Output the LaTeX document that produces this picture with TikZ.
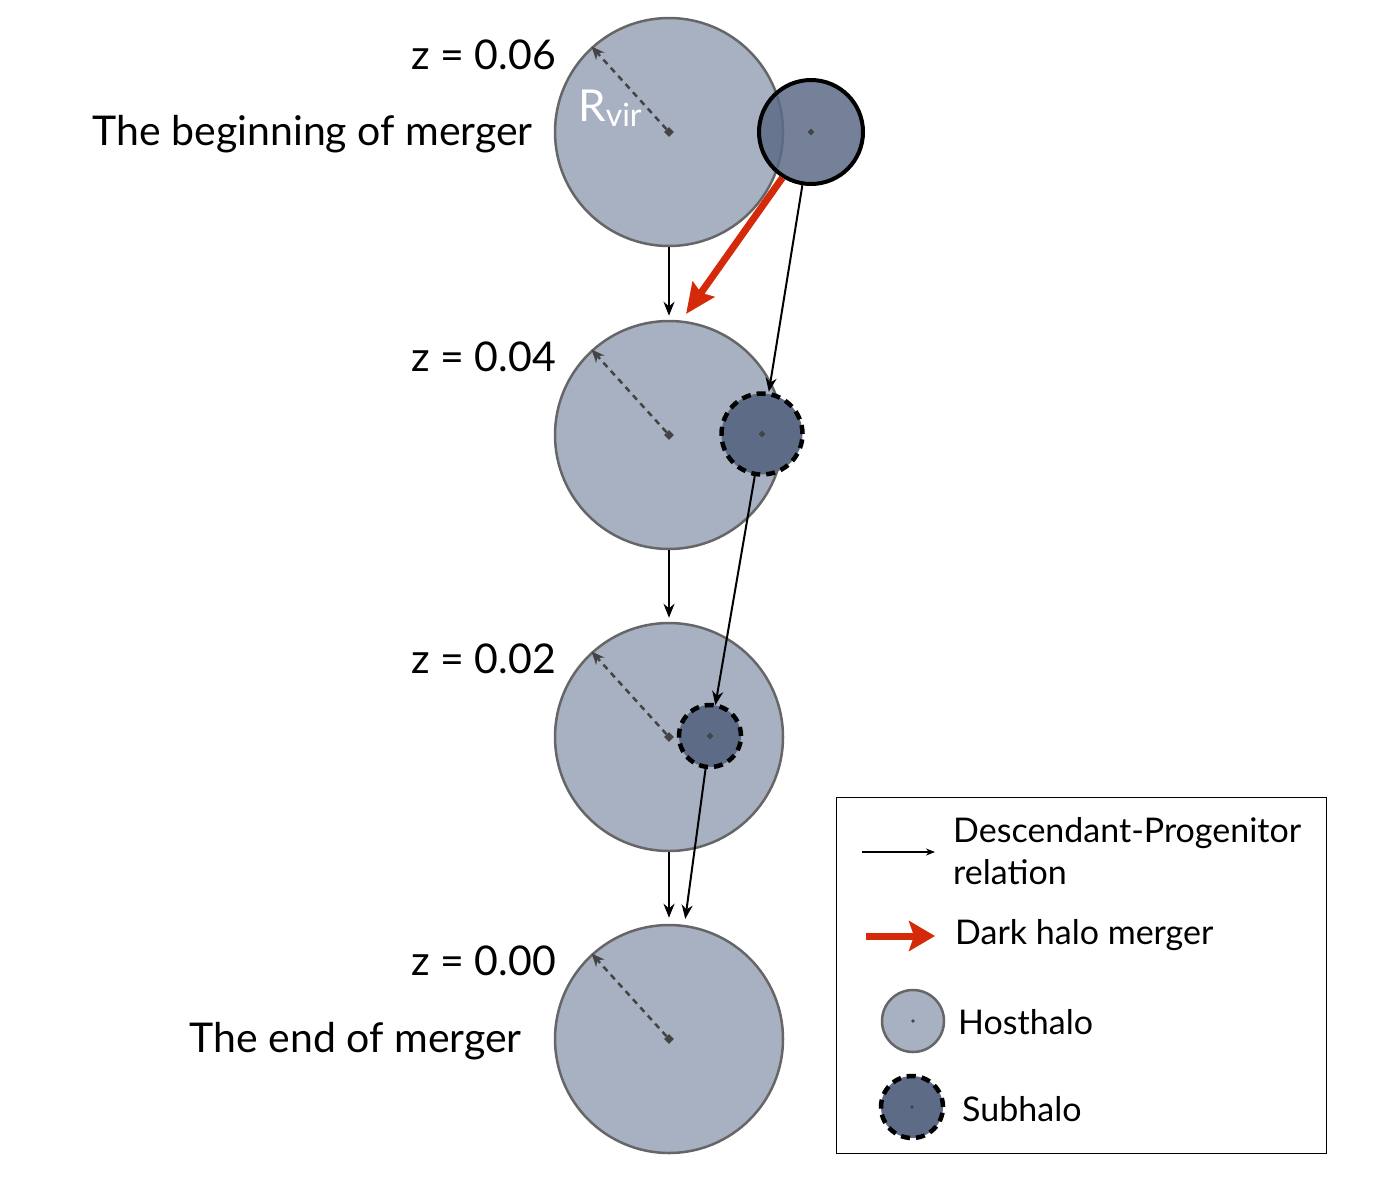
\documentclass[tikz,border=0pt]{standalone}
\usepackage{fontspec}
\setmainfont{Lato}
\usetikzlibrary{arrows.meta,shapes.geometric}
\definecolor{hostfill}{HTML}{A7B1C1}
\definecolor{hostdraw}{HTML}{666666}
\definecolor{subfill}{HTML}{5D6B86}
\definecolor{mred}{HTML}{D42A0A}
\definecolor{dotc}{HTML}{444444}
\tikzset{
  host/.style={circle,minimum size=228pt,inner sep=0pt,fill=hostfill,draw=hostdraw,line width=2.5pt},
  subsolid/.style={circle,minimum size=104pt,inner sep=0pt,fill=subfill,fill opacity=0.85,draw=black,line width=4pt,draw opacity=1},
  subdash/.style={circle,inner sep=0pt,fill=subfill,draw=black,line width=4.5pt,dash pattern=on 9pt off 6pt},
  cdot/.style={diamond,fill=dotc,inner sep=0pt,minimum size=10pt},
  sdot/.style={diamond,fill=dotc,inner sep=0pt,minimum size=7pt},
  rad/.style={dotc,line width=2.5pt,dash pattern=on 6pt off 5pt,-{Stealth[length=13pt,width=11pt]}},
  rel/.style={black,line width=2pt,-{Stealth[length=14pt,width=11pt]}},
  merge/.style={mred,line width=7pt,-{Stealth[length=30pt,width=26pt,inset=4pt]}},
  lbl/.style={anchor=east,font=\fontsize{41}{46}\selectfont,inner sep=0pt},
  legtxt/.style={anchor=west,font=\fontsize{34}{42}\selectfont,inner sep=0pt,align=left},
}
\begin{document}
\begin{tikzpicture}[x=1pt,y=-1pt]
\useasboundingbox (0,0) rectangle (1391,1192);
% hosts
\node[host] (h1) at (669,132) {};
\node[host] (h2) at (669,435) {};
\node[host] (h3) at (669,737) {};
\node[host] (h4) at (669,1039) {};
% subhalos
\node[subsolid] (s1) at (811,132) {};
\node[subdash,minimum size=81pt] (s2) at (762,434) {};
\node[subdash,minimum size=62pt] (s3) at (710,736) {};
% center dots
\foreach \h in {h1,h2,h3,h4} {\node[cdot] (\h c) at (\h) {};}
\foreach \s in {s1,s2,s3} {\node[sdot] (\s c) at (\s) {};}
% radius arrows
\foreach \h in {h1,h2,h3,h4} {\draw[rad] (\h c) -- ([shift={(4pt,4pt)}]\h.135);}
% Rvir
\node[anchor=base west,inner sep=0pt,text=white,font=\fontsize{44}{48}\selectfont] (rvir) at (578,121) {R\raisebox{-5pt}{\fontsize{32}{34}\selectfont vir}};
% relations
\draw[rel,shorten >=4pt] (h1) -- (h2);
\draw[rel,shorten >=4pt] (h2) -- (h3);
\draw[rel,shorten >=6pt] (h3) -- (h4);
\draw[rel] (s1) -- (s2);
\draw[rel,shorten >=-2pt] (s2) -- (s3);
\draw[rel,shorten >=6pt] (s3) -- (h4);
\coordinate (redend) at (686,314);
\draw[merge] (s1.238) -- (redend);
% labels
\node[lbl] (z6) at (556,55) {z = 0.06};
\node[lbl] (beg) at (533,134) {The beginning of merger};
\node[lbl] (z4) at (556,357) {z = 0.04};
\node[lbl] (z2) at (556,659) {z = 0.02};
\node[lbl] (z0) at (556,961) {z = 0.00};
\node[lbl] (endl) at (522,1041) {The end of merger};
% legend
\node[draw=black,line width=1.2pt,minimum width=490pt,minimum height=356pt,anchor=north west,inner sep=0pt] (leg) at (836,797) {};
\coordinate (la1) at (862,852);
\coordinate (la2) at (935,852);
\draw[black,line width=1.5pt,-{Stealth[length=9pt,width=7pt]}] (la1) -- (la2);
\node[legtxt] (t1) at (953,851) {Descendant-Progenitor\\relation};
\coordinate (lr1) at (866,936);
\coordinate (lr2) at (935,936);
\draw[mred,line width=7pt,-{Stealth[length=26pt,width=30pt,inset=5pt]}] (lr1) -- (lr2);
\node[legtxt] (t2) at (955,935) {Dark halo merger};
\node[host,minimum size=62pt] (lh) at (913,1021) {};
\node[sdot,minimum size=4pt] at (lh) {};
\node[legtxt] (t3) at (958,1022) {Hosthalo};
\node[subdash,minimum size=62pt] (ls) at (912,1107) {};
\node[sdot,minimum size=4pt] at (ls) {};
\node[legtxt] (t4) at (962,1109) {Subhalo};
\end{tikzpicture}
\end{document}
